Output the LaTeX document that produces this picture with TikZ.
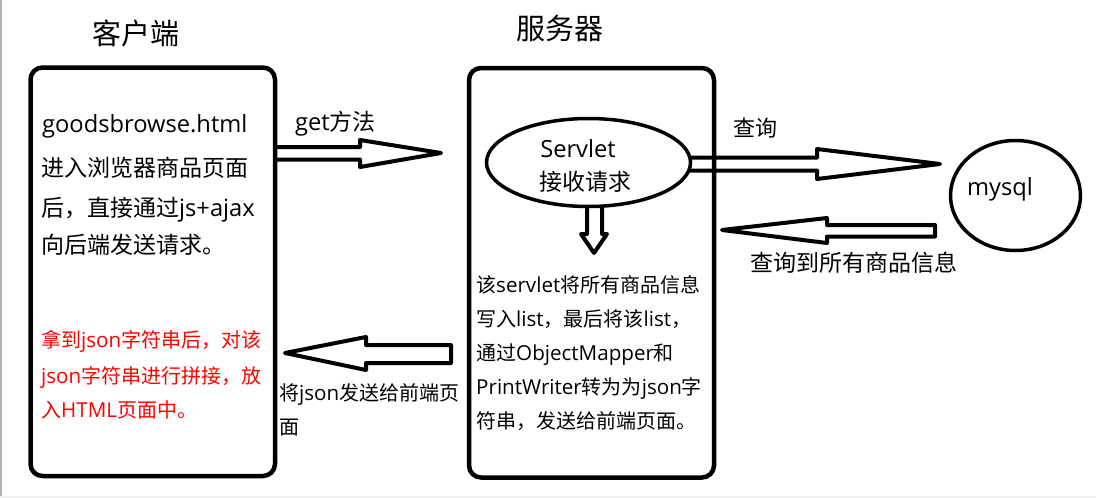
\documentclass[tikz,border=0pt]{standalone}
\usepackage{fontspec}
\setmainfont{Noto Sans CJK SC}
\newfontfamily\lat{Open Sans}[Scale=1.03]
\usetikzlibrary{shapes.geometric}
\begin{document}
\begin{tikzpicture}[x=1pt,y=-1pt,
  box/.style={draw, line width=4.5pt, rounded corners=12pt, inner sep=0pt, outer sep=0pt},
  oval/.style={draw, ellipse, line width=3.5pt, inner sep=0pt, outer sep=0pt},
  blockarrow/.style={draw, line width=4pt, line join=round},
  txt/.style={inner sep=0pt, anchor=base west},
  ctxt/.style={inner sep=0pt, anchor=base},
  big/.style={font=\fontsize{29}{34}\selectfont},
  mid/.style={font=\fontsize{23}{28}\selectfont},
  sml/.style={font=\fontsize{20}{24}\selectfont}]
\useasboundingbox (0,0) rectangle (1096,498);
\fill[white] (0,0) rectangle (1096,498);
\fill[black!30] (0,0) rectangle (1.8,498);
\fill[black!6] (0,496) rectangle (1096,498);

% boxes
\node[box, minimum width=244.5pt, minimum height=408.5pt] (client) at (152.75,271.75) {};
\node[box, minimum width=245pt, minimum height=409.5pt] (server) at (591.5,272.75) {};
\node[oval, minimum width=204pt, minimum height=88pt] (servlet) at (588.5,162.5) {};
\node[oval, minimum width=130pt, minimum height=110pt] (db) at (1015.5,195.5) {};

% titles
\node[ctxt, big] (tclient) at (136,44.5) {客户端};
\node[ctxt, big] (tserver) at (560,39.5) {服务器};

% client texts
\node[txt, mid] (c0) at (42,132) {\lat goodsbrowse.html};
\node[txt, mid] (c1) at (41,176.7) {进入浏览器商品页面};
\node[txt, mid] (c2) at (41,216.2) {后，直接通过{\lat js+ajax}};
\node[txt, mid] (c3) at (41,253.7) {向后端发送请求。};
\node[txt, sml, text=red] (r1) at (41,347.6) {拿到{\lat json}字符串后，对该};
\node[txt, sml, text=red] (r2) at (41,383.6) {{\lat json}字符串进行拼接，放};
\node[txt, sml, text=red] (r3) at (41,417.6) {入{\lat HTML}页面中。};

% servlet texts
\node[ctxt, mid] (s1) at (578,157) {\lat Servlet};
\node[ctxt, mid] (s2) at (585,190.7) {接收请求};

% server texts
\node[txt, sml] (v1) at (476,292.6) {该{\lat servlet}将所有商品信息};
\node[txt, sml] (v2) at (476,326.6) {写入{\lat list}，最后将该{\lat list}，};
\node[txt, sml] (v3) at (476,360.6) {通过{\lat ObjectMapper}和};
\node[txt, sml] (v4) at (476,394.6) {{\lat PrintWriter}转为为{\lat json}字};
\node[txt, sml] (v5) at (476,428.6) {符串，发送给前端页面。};

% mysql
\node[ctxt, mid] (m1) at (1000,195) {\lat mysql};

% arrow labels
\node[txt, mid] (lget) at (295,130.7) {{\lat get}方法};
\node[ctxt, font=\fontsize{22}{26}\selectfont] (lq) at (755.5,136.4) {查询};
\node[ctxt, mid] (lr) at (854,271.7) {查询到所有商品信息};
\node[txt, sml] (ls1) at (279,400.6) {将{\lat json}发送给前端页};
\node[txt, sml] (ls2) at (279,434.6) {面};

% block arrows
\draw[blockarrow] (275,147) -- (360,147) -- (360,140) -- (441,153) -- (360,167) -- (360,159.5) -- (275,159.5);
\draw[blockarrow] (587,206) -- (587,234) -- (581,234) -- (594,253) -- (607,234) -- (602,234) -- (602,206);
\draw[blockarrow] (451,345) -- (366,345) -- (366,337) -- (285,353) -- (366,370) -- (366,363) -- (451,363) -- cycle;
\draw[blockarrow] (690,157.5) -- (817,157.5) -- (817,149) -- (940,164) -- (817,179) -- (817,170.5) -- (690,170.5);
\draw[blockarrow] (935,225) -- (827,225) -- (827,218) -- (722,230) -- (827,243) -- (827,236.5) -- (935,236.5) -- cycle;
\end{tikzpicture}
\end{document}
